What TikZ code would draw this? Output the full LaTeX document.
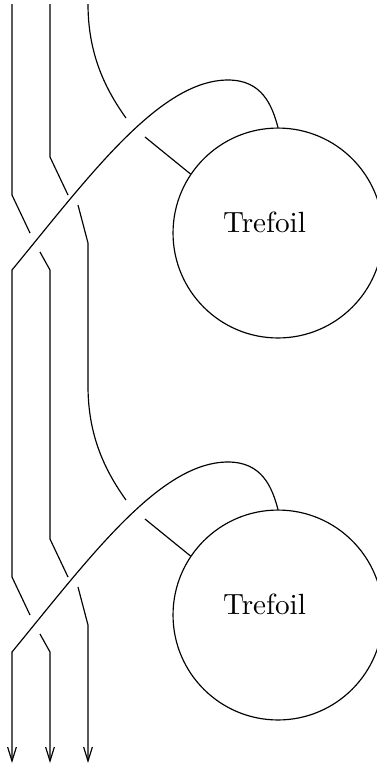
\documentclass[tikz,border=0pt]{standalone}
\usetikzlibrary{arrows.meta}

\begin{document}
\begin{tikzpicture}[x=0.3425pt, y=-0.3425pt, line width=0.4pt,
    knotbox/.style={draw, circle, minimum size=71.9pt, inner sep=0pt},
    strandend/.style={-{Straight Barb[length=4.8pt, width=3pt]}}]
    \useasboundingbox (0,0) rectangle (377,767);

    % the two knotted pieces
    \node[knotbox] (tref1) at (278,233) {};
    \node (lab1) at (264.5,222) {Trefoil};
    \node[knotbox] (tref2) at (278,615) {};
    \node (lab2) at (264.5,604) {Trefoil};

    % first block
    \draw (12,4) -- (12,195) -- (30,233);
    \draw (50,4) -- (50,157) -- (68,195);
    \draw (88,4) .. controls (88,55) and (106,90) .. (126,118);
    \draw (145,137) -- (tref1.146);
    \draw (tref1.north) .. controls (272,105) and (262,80) .. (228,80)
        .. controls (160,80) and (90,175) .. (12,270) -- (12,577) -- (30,615);
    \draw (40,252) -- (50,270) -- (50,539) -- (68,577);
    \draw (78,205) -- (88,243) -- (88,386)
        .. controls (88,437) and (106,472) .. (126,500);

    % second block
    \draw (145,519) -- (tref2.146);
    \draw[strandend] (tref2.north) .. controls (272,487) and (262,462) .. (228,462)
        .. controls (160,462) and (90,557) .. (12,652) -- (12,763);
    \draw[strandend] (40,634) -- (50,652) -- (50,763);
    \draw[strandend] (78,587) -- (88,625) -- (88,763);
\end{tikzpicture}
\end{document}
